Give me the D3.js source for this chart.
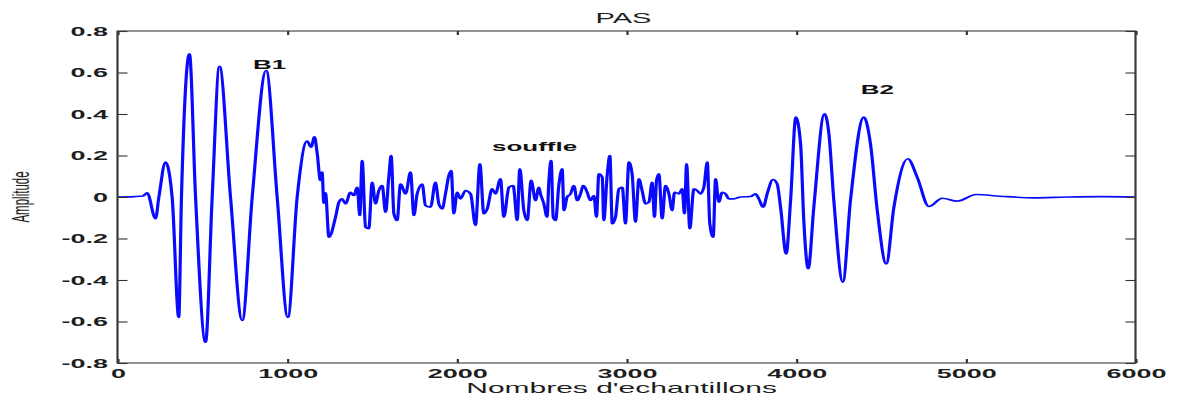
<!DOCTYPE html>
<html><head><meta charset="utf-8">
<script src="https://cdn.jsdelivr.net/npm/d3@7"></script>
<style>html,body{margin:0;padding:0;background:#fff;overflow:hidden}</style>
</head><body>
<svg id="chart" width="1177" height="398"></svg>
<script>
// ---- data ----
const sampleIdx = [0,100,150,175,224,244,283,322,361,377,424,460,519,558,601,666,735,794,876,941,1004,1059,1118,1141,1161,1177,1196,1206,1216,1226,1246,
1285,1305,1324,1344,1373,1393,1413,1428,1442,1462,1481,1501,1521,1540,1560,1580,1599,1613,1629,1648,1668,1698,1727,1747,1766,1796,1815,1845,1874,1894,1914,1933,1953,1967,1982,2002,2022,2051,2081,2110,2136,2159,2179,2208,2228,2257,2277,2307,2332,2356,2371,2395,2415,2438,2464,2483,
2493,2513,2532,2542,2556,2568,2582,2601,2621,2631,2650,2670,2690,2709,2729,2745,2768,2788,2808,2823,2837,2857,2866,2886,2902,2916,2935,2955,2975,2994,3014,3033,3053,3073,3092,3112,3132,3151,3165,3177,3191,3210,3230,3250,3269,3283,3309,3328,3342,3354,3373,3397,3417,3436,3456,3476,3491,3511,3525,3544,3564,3584,3603,3633,3672,3731,
3760,3780,3806,3829,3863,3888,3908,3941,3967,3998,4026,4045,4071,4104,4167,4193,4222,4275,4320,4399,4438,4478,4531,4576,4658,4713,4782,4861,4950,5060,5200,5400,5600,5800,6000];
const amplitude = [0,0.002,0.005,0.02,-0.105,0,0.168,0,-0.58,0,0.69,0,-0.70,0,0.63,0,-0.595,0,0.61,0,-0.58,0,0.27,0.24,0.29,0.21,0.08,0.12,-0.03,0.02,-0.194,
-0.097,-0.025,-0.009,-0.033,0.023,0.007,0.047,-0.089,0.176,-0.145,-0.153,0.071,-0.033,0.031,0.055,-0.073,0.096,0.2,-0.081,-0.113,0.063,0.015,0.12,-0.089,0.015,0.063,-0.041,-0.049,0.071,-0.033,-0.057,0.015,0.104,0.128,-0.081,0.023,-0.009,0.031,0.015,-0.137,0.16,-0.081,-0.057,0.039,0.015,0.088,-0.097,0.047,0.055,-0.113,0.136,-0.065,-0.113,0.080,-0.017,0.047,
0.015,-0.033,-0.097,0.071,0.176,-0.097,-0.113,0.055,0.136,-0.065,0.0,0.015,0.055,-0.017,0.015,0.055,0.023,-0.017,0.007,-0.097,0.112,0.096,-0.113,0.104,0.2,-0.129,-0.097,0.039,0.047,-0.129,0.168,0.112,-0.121,0.088,0.031,-0.033,-0.025,0.071,-0.097,0.080,0.112,-0.105,0.055,0.015,-0.065,0.023,0.015,0.039,-0.081,0.16,-0.153,0.039,0.031,0.015,0.047,0.168,-0.129,-0.194,0.088,-0.025,0.023,0.015,-0.009,-0.009,0.0,0.002,
0.015,-0.009,-0.049,0.015,0.084,0.063,-0.049,-0.274,-0.017,0.385,0.256,-0.113,-0.346,-0.049,0.401,0.304,-0.017,-0.410,-0.017,0.385,0.256,-0.065,-0.322,-0.049,0.184,0.096,-0.046,-0.006,-0.02,0.012,0.004,-0.004,0.0,0.002,0.0];

const xTickValues = [0,1000,2000,3000,4000,5000,6000];
const xTickLabels = ["0","1000","2000","3000","4000","5000","6000"];
const yTickValues = [-0.8,-0.6,-0.4,-0.2,0,0.2,0.4,0.6,0.8];
const yTickLabels = ["-0.8","-0.6","-0.4","-0.2","0","0.2","0.4","0.6","0.8"];
const titleText = "PAS";
const xAxisLabel = "Nombres d'echantillons";
const yAxisLabel = "Amplitude";
const annotLabels = ["B1","souffle","B2"];
const annotSample = [896,2458,4479];
const annotAmp = [0.617,0.224,0.494];

// ---- layout: the reference is a figure stretched 2x horizontally ----
const SX = 2;
const W = 1177, H = 398;
const pLeft = 117.5 / SX, pRight = 1135.5 / SX, pTop = 31, pBottom = 363;
const FONT = "'Liberation Sans', Arial, Helvetica, sans-serif";
const INK = "#1e1e1e";

const svg = d3.select("#chart");
svg.append("rect").attr("width", W).attr("height", H).attr("fill", "#fff");
const g = svg.append("g").attr("transform", `scale(${SX},1)`);

const x = d3.scaleLinear().domain([0, 6000]).range([pLeft, pRight]);
const y = d3.scaleLinear().domain([-0.8, 0.8]).range([pBottom, pTop]);

// signal
const pts = sampleIdx.map((s, i) => [s, amplitude[i]]);
const line = d3.line().x(d => x(d[0])).y(d => y(d[1])).curve(d3.curveMonotoneX);
g.append("path").datum(pts)
  .attr("d", line)
  .attr("fill", "none")
  .attr("stroke", "#0a0aff")
  .attr("stroke-width", 1.6)
  .attr("stroke-linejoin", "round");

// axes
function styleAxis(sel) {
  sel.select(".domain").remove();
  sel.selectAll(".tick line").attr("stroke", "#333").attr("stroke-width", 1.1);
  sel.selectAll(".tick text").attr("fill", INK).attr("font-family", FONT)
    .attr("font-size", 13.5).attr("font-weight", "bold");
}
const xLab = d => xTickLabels[xTickValues.indexOf(d)];
const yLab = d => yTickLabels[yTickValues.indexOf(d)];

g.append("g").attr("transform", `translate(0,${pBottom})`)
  .call(d3.axisBottom(x).tickValues(xTickValues).tickFormat(xLab).tickSizeInner(-4).tickSizeOuter(0).tickPadding(5.2))
  .call(styleAxis);
g.append("g").attr("transform", `translate(0,${pTop})`)
  .call(d3.axisTop(x).tickValues(xTickValues).tickFormat("").tickSizeInner(-4).tickSizeOuter(0))
  .call(styleAxis);
g.append("g").attr("transform", `translate(${pLeft},0)`)
  .call(d3.axisLeft(y).tickValues(yTickValues).tickFormat(yLab).tickSizeInner(-5).tickSizeOuter(0).tickPadding(4.8))
  .call(styleAxis);
g.append("g").attr("transform", `translate(${pRight},0)`)
  .call(d3.axisRight(y).tickValues(yTickValues).tickFormat("").tickSizeInner(-5).tickSizeOuter(0))
  .call(styleAxis);

// frame
g.append("rect").attr("x", pLeft).attr("y", pTop)
  .attr("width", pRight - pLeft).attr("height", pBottom - pTop)
  .attr("fill", "none").attr("stroke", "#3a3a3a").attr("stroke-width", 1.1);

// title
g.append("text").attr("x", (pLeft + pRight) / 2 - 1.5).attr("y", 22.8)
  .attr("text-anchor", "middle").attr("font-family", FONT).attr("font-size", 14.5)
  .attr("fill", INK).text(titleText);

// x label
g.append("text").attr("x", 310.8).attr("y", 393)
  .attr("text-anchor", "middle").attr("font-family", FONT).attr("font-size", 15)
  .attr("fill", INK).text(xAxisLabel);

// y label
g.append("text").attr("transform", `translate(14.5,${(pTop + pBottom) / 2}) rotate(-90)`)
  .attr("text-anchor", "middle").attr("font-family", FONT).attr("font-size", 11.5)
  .attr("fill", INK).text(yAxisLabel);

// annotations
g.selectAll("text.annot").data(annotLabels).enter().append("text")
  .attr("class", "annot")
  .attr("x", (d, i) => x(annotSample[i]))
  .attr("y", (d, i) => y(annotAmp[i]))
  .attr("text-anchor", "middle").attr("font-family", FONT)
  .attr("font-size", 13).attr("font-weight", "bold").attr("fill", "#111")
  .text(d => d);
</script>
</body></html>
